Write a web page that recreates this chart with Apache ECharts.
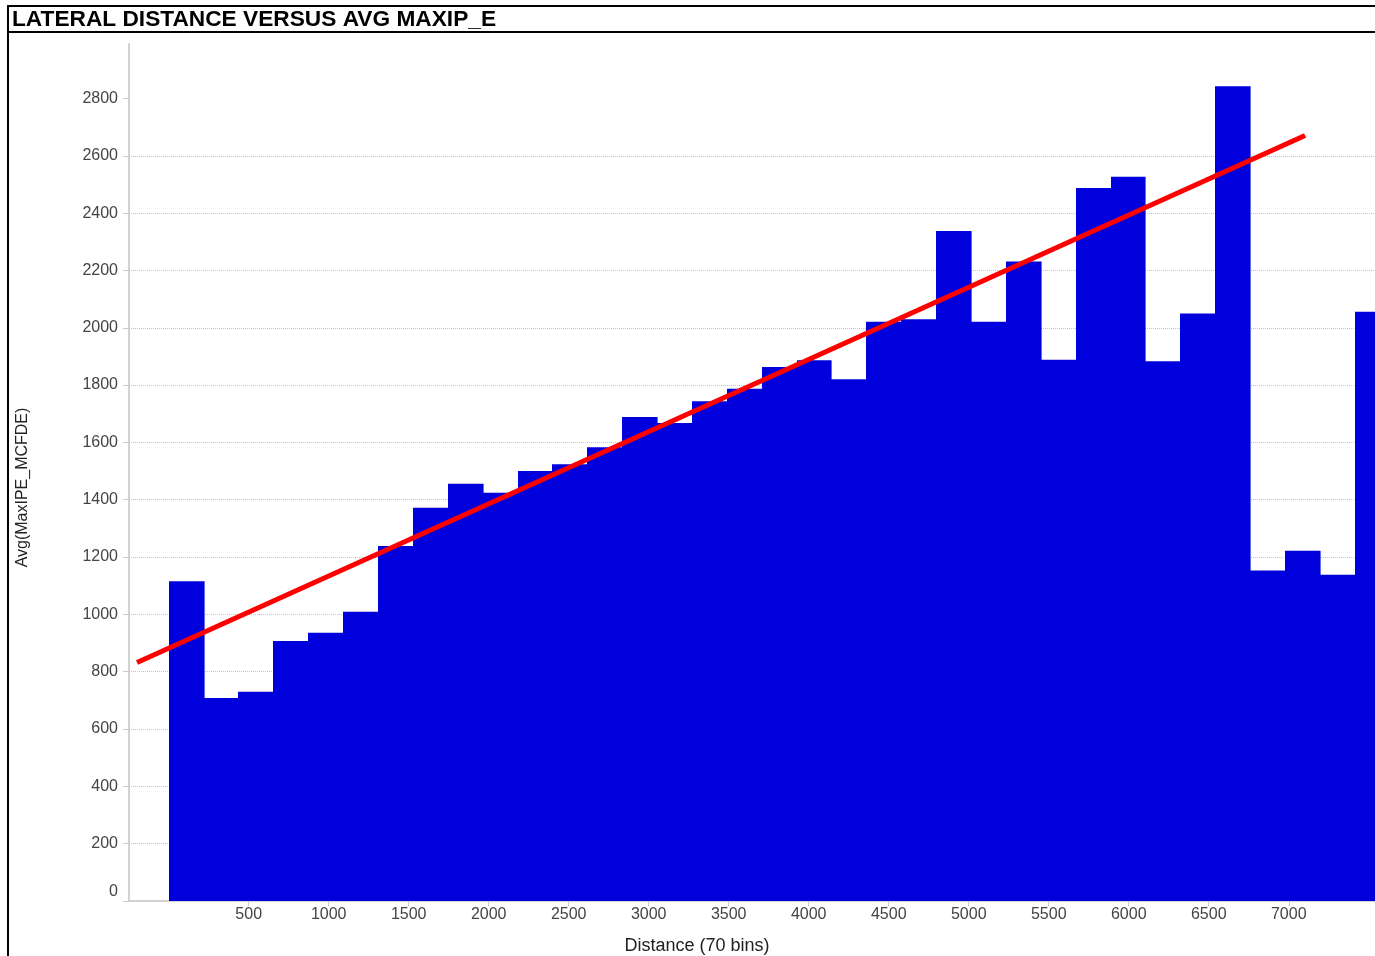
<!DOCTYPE html>
<html>
<head>
<meta charset="utf-8">
<title>Lateral distance versus avg MaxIP_E</title>
<script src="https://cdn.jsdelivr.net/npm/echarts@6/dist/echarts.min.js"></script>
<style>
    html, body { margin: 0; padding: 0; background: #fff; }
    #main { width: 1375px; height: 956px; }
</style>
</head>
<body>
<div id="main"></div>
<script>
    // width of one distance bin
    var binWidth = 218;
    // Avg(MaxIPE_MCFDE) for each bin, left to right
    var avgValues = [1116, 708, 730, 907, 936, 1009, 1239, 1372, 1456, 1424,
                     1500, 1524, 1583, 1689, 1668, 1744, 1787, 1863, 1887, 1820,
                     2021, 2030, 2338, 2021, 2231, 1888, 2488, 2527, 1883, 2050,
                     2843, 1153, 1222, 1138, 2056];
    // red trend line, [distance, value] at both ends
    var trendLine = [[-198, 832], [7102, 2671]];
    var xTicks = [500, 1000, 1500, 2000, 2500, 3000, 3500, 4000, 4500, 5000, 5500, 6000, 6500, 7000];
    var yTicks = [0, 200, 400, 600, 800, 1000, 1200, 1400, 1600, 1800, 2000, 2200, 2400, 2600, 2800];
    var xMin = -248, xMax = 7539, yMax = 2990;

    var font = 'Arial, "Liberation Sans", sans-serif';

    // histogram rows: [bin start, bin end, value]
    var bins = [];
    for (var i = 0; i < avgValues.length; i++) {
        bins.push([i * binWidth, (i + 1) * binWidth, avgValues[i]]);
    }

    function renderBin(params, api) {
        var p0 = api.coord([api.value(0), api.value(2)]);
        var p1 = api.coord([api.value(1), 0]);
        var x0 = Math.round(p0[0]), x1 = Math.round(p1[0]);
        return {
            type: 'rect',
            shape: { x: x0, y: p0[1], width: x1 - x0 + 0.6, height: p1[1] - p0[1] },
            style: { fill: '#0000dc' }
        };
    }

    function plain(v) {
        return String(v);
    }

    // the zero label sits a little above the axis line in the original
    function yLabel(v) {
        return v === 0 ? '{zero|0}' : String(v);
    }

    var option = {
        animation: false,
        backgroundColor: '#fff',
        title: {
            text: 'LATERAL DISTANCE VERSUS AVG MAXIP_E',
            left: 12,
            top: 8,
            padding: 0,
            textStyle: { fontFamily: font, fontSize: 22.7, fontWeight: 'bold', color: '#000' }
        },
        graphic: [
            { type: 'line', shape: { x1: 7, y1: 6, x2: 1375, y2: 6 }, style: { stroke: '#000', lineWidth: 2 } },
            { type: 'line', shape: { x1: 7, y1: 32, x2: 1375, y2: 32 }, style: { stroke: '#000', lineWidth: 2 } },
            { type: 'line', shape: { x1: 8, y1: 5, x2: 8, y2: 956 }, style: { stroke: '#000', lineWidth: 2 } }
        ],
        grid: { left: 129, right: 0, top: 44, bottom: 55, containLabel: false, outerBoundsMode: 'none' },
        xAxis: {
            type: 'value',
            min: xMin,
            max: xMax,
            name: 'Distance (70 bins)',
            nameLocation: 'middle',
            nameGap: 36,
            nameTextStyle: { fontFamily: font, fontSize: 18, color: '#222', padding: [0, 110, 0, 0] },
            axisLine: { show: true, onZero: false, lineStyle: { color: '#d2d2d2', width: 2 } },
            axisTick: { show: true, length: 5, customValues: xTicks, lineStyle: { color: '#c8c8c8' } },
            axisLabel: { customValues: xTicks, formatter: plain, margin: 6, fontFamily: font, fontSize: 16, color: '#444' },
            splitLine: { show: false }
        },
        yAxis: {
            type: 'value',
            min: 0,
            max: yMax,
            name: 'Avg(MaxIPE_MCFDE)',
            nameLocation: 'middle',
            nameGap: 98,
            nameTextStyle: { fontFamily: font, fontSize: 16, color: '#222', padding: [0, 30, 0, 0] },
            axisLine: { show: true, onZero: false, lineStyle: { color: '#d2d2d2', width: 2 } },
            axisTick: { show: true, length: 6, customValues: yTicks, lineStyle: { color: '#c8c8c8' } },
            axisLabel: {
                customValues: yTicks,
                formatter: yLabel,
                margin: 11,
                fontFamily: font,
                fontSize: 16,
                color: '#444',
                rich: { zero: { fontFamily: font, fontSize: 16, color: '#444', padding: [0, 0, 18, 0] } }
            },
            splitLine: {
                show: true,
                showMinLine: false,
                showMaxLine: false,
                lineStyle: { color: '#c4c4c4', type: 'dotted', width: 1 }
            }
        },
        series: [
            {
                name: 'Avg(MaxIPE_MCFDE)',
                type: 'custom',
                renderItem: renderBin,
                clip: true,
                encode: { x: [0, 1], y: 2 },
                data: bins,
                z: 2
            },
            {
                name: 'Trend',
                type: 'line',
                data: trendLine,
                symbol: 'none',
                lineStyle: { color: '#ff0000', width: 5 },
                z: 3
            }
        ]
    };

    var chart = echarts.init(document.getElementById('main'));
    chart.setOption(option);
</script>
</body>
</html>
